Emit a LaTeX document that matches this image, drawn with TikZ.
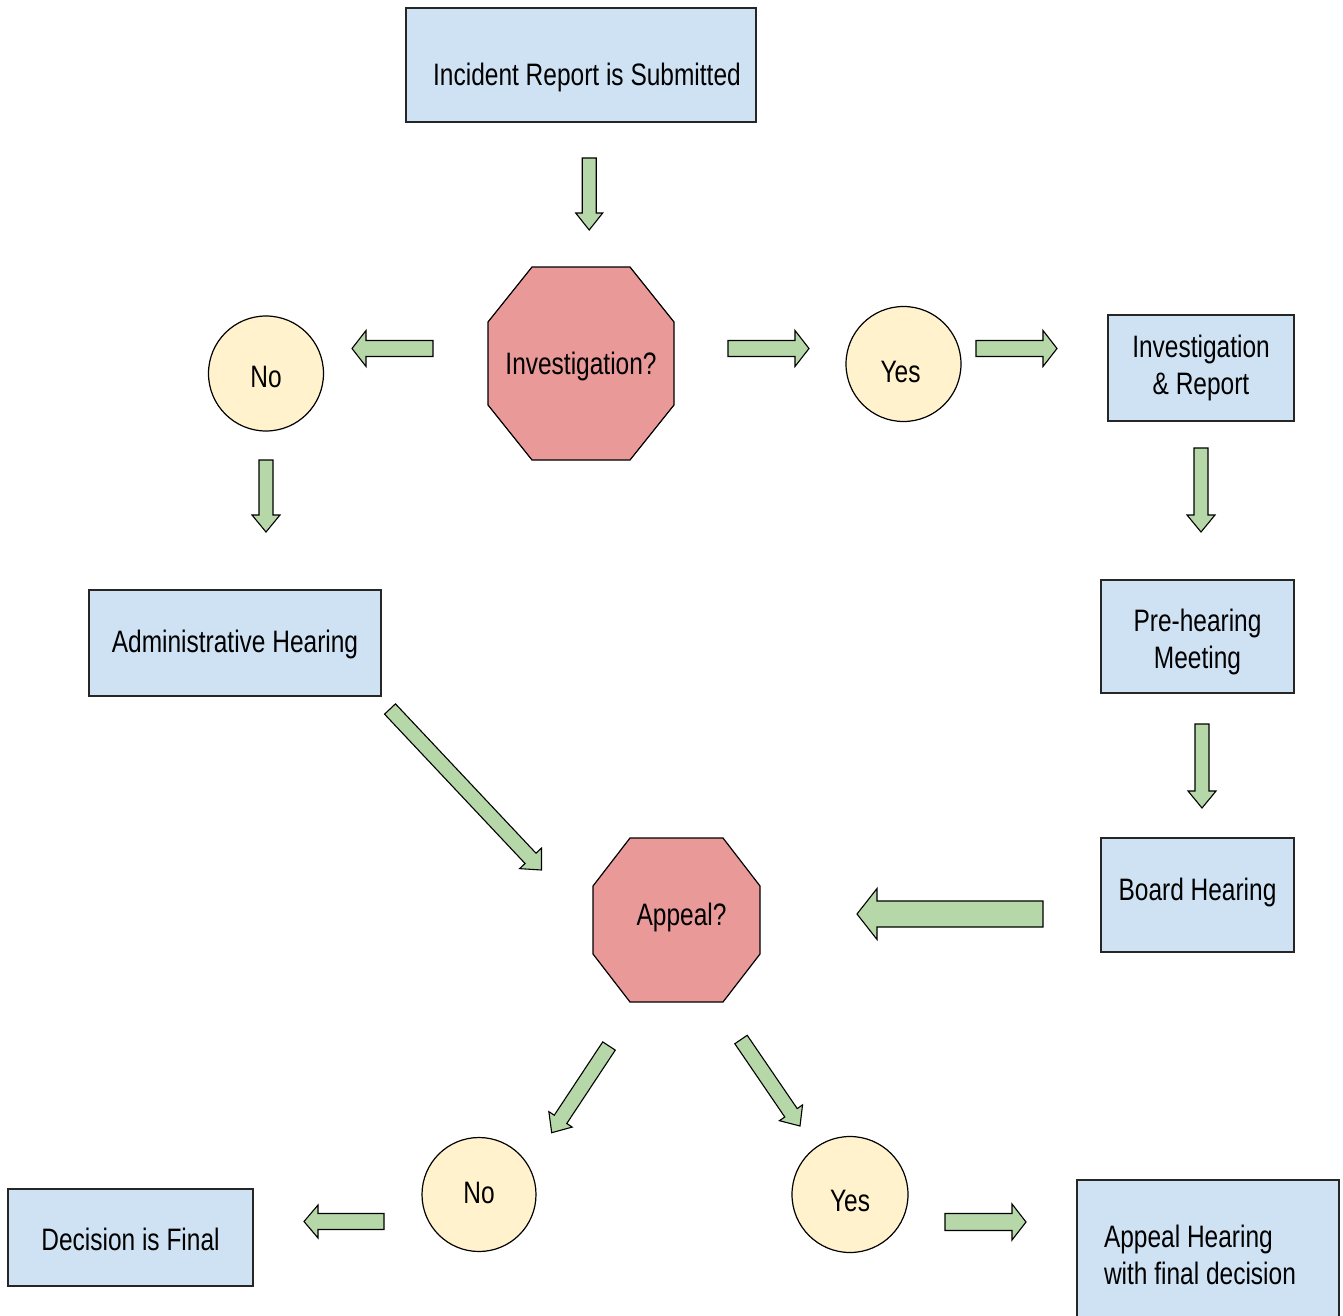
\documentclass[tikz,border=0pt]{standalone}
\usepackage{fontspec}
\setmainfont{Liberation Sans}[FakeStretch=0.79]
\usetikzlibrary{calc,backgrounds}
\definecolor{boxblue}{HTML}{CFE2F3}
\definecolor{octred}{HTML}{EA9999}
\definecolor{circyel}{HTML}{FFF2CC}
\definecolor{arrgreen}{HTML}{B6D7A8}
% block arrow: start coord, end coord, shaft half width, head half width, head length
\newcommand{\blockarrow}[5]{%
  \coordinate (ba-h) at ($(#2)!#5!(#1)$);
  \filldraw[blockarr] ($(#1)!#3!90:(#2)$) -- ($(ba-h)!#3!90:(#2)$) -- ($(ba-h)!#4!90:(#2)$) -- (#2)
    -- ($(ba-h)!#4!-90:(#2)$) -- ($(ba-h)!#3!-90:(#2)$) -- ($(#1)!#3!-90:(#2)$) -- cycle;}
% octagon behind a named node: node, x inset, y inset
\newcommand{\octagonbg}[3]{%
  \begin{scope}[on background layer]
  \filldraw[octshape] ($(#1.north west)+(#2,0)$) -- ($(#1.north east)+(-#2,0)$)
    -- ($(#1.north east)+(0,#3)$) -- ($(#1.south east)+(0,-#3)$)
    -- ($(#1.south east)+(-#2,0)$) -- ($(#1.south west)+(#2,0)$)
    -- ($(#1.south west)+(0,-#3)$) -- ($(#1.north west)+(0,#3)$) -- cycle;
  \end{scope}}
\begin{document}
\begin{tikzpicture}[x=1pt,y=-1pt,
  every node/.style={font=\fontsize{31}{36.5}\selectfont, inner sep=0pt, outer sep=0pt},
  box/.style={draw=black!85, line width=1.3pt, fill=boxblue, align=center},
  circ/.style={circle, draw=black, line width=1.2pt, fill=circyel},
  octnode/.style={rectangle, draw=none},
  octshape/.style={draw=black, line width=1.2pt, fill=octred},
  blockarr/.style={draw=black, line width=1.1pt, fill=arrgreen},
  tb/.style 2 args={text height=#1pt, text depth=#2pt}]
\useasboundingbox (0,0) rectangle (1343,1316);
\begin{scope}[on background layer]
  \fill[white] (0,0) rectangle (1343,1316);
\end{scope}

% nodes
\node[box, minimum width=350pt, minimum height=114pt, tb={48.5}{6.5}] (inc) at (581,65) {\hspace*{12pt}Incident Report is Submitted};
\node[octnode, minimum width=186pt, minimum height=193pt, tb={27.5}{6.5}] (inv) at (581,363.5) {Investigation?};
\node[circ, minimum size=115pt, tb={33.5}{6.5}] (no1) at (266,373.5) {No};
\node[circ, minimum size=115pt, tb={42.5}{6.5}] (yes1) at (903.5,364) {\hspace*{-6pt}Yes};
\node[box, minimum width=186pt, minimum height=106pt] (invrep) at (1201,368) {Investigation\\\& Report};
\node[box, minimum width=193pt, minimum height=113pt, tb={69.5}{6.5}] (pre) at (1197.5,636.5) {Pre-hearing\\Meeting};
\node[box, minimum width=193pt, minimum height=114pt, tb={23}{13}] (board) at (1197.5,895) {Board Hearing};
\node[box, minimum width=292pt, minimum height=106pt, tb={24.5}{6.5}] (admin) at (235,643) {Administrative Hearing};
\node[octnode, minimum width=167pt, minimum height=164pt, tb={23}{13}] (appeal) at (676.5,920) {\hspace*{10pt}Appeal?};
\node[circ, minimum size=114pt, tb={23.5}{6.5}] (no2) at (479,1194.5) {No};
\node[circ, minimum size=116pt, tb={39.5}{6.5}] (yes2) at (850,1194.5) {Yes};
\node[box, minimum width=245pt, minimum height=97pt, tb={31.5}{6.5}] (dec) at (130.5,1237.5) {Decision is Final};
\node[box, minimum width=262pt, minimum height=150pt, text width=208pt, align=left] (apph) at (1208,1255) {\spaceskip=0pt\relax Appeal Hearing\\with final decision};

\octagonbg{inv}{44}{55}
\octagonbg{appeal}{37}{48}

% block arrows
\coordinate (a1s) at (589.2,158);  \coordinate (a1e) at (589.2,230);
\coordinate (a2s) at (433,348.5);  \coordinate (a2e) at (352,348.5);
\coordinate (a3s) at (728,348.5);  \coordinate (a3e) at (809,348.5);
\coordinate (a4s) at (976,348.5);  \coordinate (a4e) at (1057,348.5);
\coordinate (a5s) at (266,460);    \coordinate (a5e) at (266,532);
\coordinate (a6s) at (1201,448);   \coordinate (a6e) at (1201,532);
\coordinate (a7s) at (1202,724);   \coordinate (a7e) at (1202,808);
\coordinate (a8s) at (1043,914);   \coordinate (a8e) at (857,914);
\coordinate (a9s) at (390,709);    \coordinate (a9e) at (541.5,870);
\coordinate (a10s) at (609,1046);  \coordinate (a10e) at (551.7,1132.7);
\coordinate (a11s) at (741,1039.5);\coordinate (a11e) at (800,1126);
\coordinate (a12s) at (384,1221.5);\coordinate (a12e) at (304,1221.5);
\coordinate (a13s) at (945,1222);  \coordinate (a13e) at (1026,1222);

\blockarrow{a1s}{a1e}{7pt}{13.5pt}{17pt}
\blockarrow{a2s}{a2e}{8pt}{18pt}{14pt}
\blockarrow{a3s}{a3e}{8pt}{18pt}{14pt}
\blockarrow{a4s}{a4e}{8pt}{18pt}{14pt}
\blockarrow{a5s}{a5e}{7pt}{14pt}{17pt}
\blockarrow{a6s}{a6e}{7pt}{14pt}{17pt}
\blockarrow{a7s}{a7e}{7pt}{14pt}{17pt}
\blockarrow{a8s}{a8e}{13pt}{25.5pt}{20pt}
\blockarrow{a9s}{a9e}{7.5pt}{15pt}{16pt}
\blockarrow{a10s}{a10e}{7.5pt}{14pt}{16pt}
\blockarrow{a11s}{a11e}{7.5pt}{14pt}{16pt}
\blockarrow{a12s}{a12e}{8pt}{16.5pt}{14pt}
\blockarrow{a13s}{a13e}{8.5pt}{18pt}{14pt}
\end{tikzpicture}
\end{document}
